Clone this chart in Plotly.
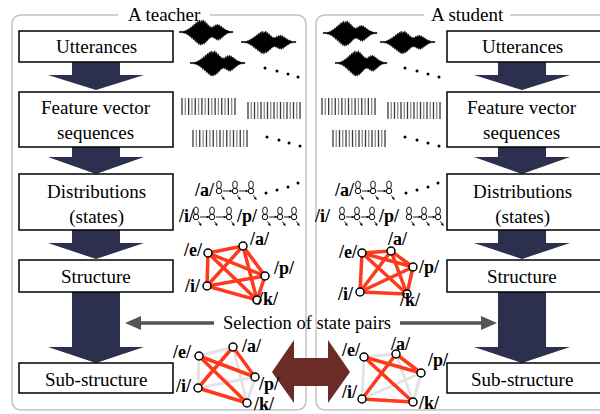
import plotly.graph_objects as go
import numpy as np

# ---------------- data / content ----------------
panel_titles = ["A teacher", "A student"]
panel_title_x = [164, 467]
step_labels = ["Utterances", "Feature vector<br>sequences", "Distributions<br>(states)",
               "Structure", "Sub-structure"]
box_tops = [31, 92, 174, 260, 363]
box_bottoms = [62, 147, 230, 292, 393]
label_y = [46, 120, 204, 276, 379]
arrow_specs = [(62, 75, 90), (147, 157, 174), (230, 243, 259), (292, 347, 363)]

phonemes = ["/e/", "/a/", "/p/", "/i/", "/k/"]
all_edges = [(0, 1), (0, 2), (0, 3), (0, 4), (1, 2), (1, 3), (1, 4), (2, 3), (2, 4), (3, 4)]
selected_edges = [(0, 2), (0, 4), (1, 2), (1, 3), (3, 4)]

graph_nodes = {
    "teacher_struct": [(208, 253), (243, 246), (265, 276), (207, 286), (257, 300)],
    "student_struct": [(362, 253), (391, 251), (413, 267), (360, 292), (407, 294)],
    "teacher_sub": [(199, 356), (233, 347), (255, 377), (198, 388), (247, 403)],
    "student_sub": [(364, 357), (396, 354), (421, 373), (362, 399), (413, 402)],
}
graph_labels = {
    "teacher_struct": [(193, 250), (259, 239), (284, 268), (192, 286), (268, 299)],
    "student_struct": [(348, 252), (397, 239), (429, 267), (345, 294), (410, 300)],
    "teacher_sub": [(182, 352), (251, 346), (269, 384), (183, 386), (264, 404)],
    "student_sub": [(351, 350), (400, 344), (438, 360), (349, 392), (429, 403)],
}

env_top = [0.5, 0.5, 0.5, 0.6, 0.5, 0.9, 0.7, 1.5, 1.1, 2.6, 2.0, 3.8, 3.1, 5.2, 4.4, 6.9, 5.8, 8.6,
           7.4, 10.2, 8.8, 11.6, 10.1, 12.8, 9.6, 12.2, 10.8, 13.0, 9.9, 11.4, 8.2, 9.6, 6.8, 7.4,
           5.0, 5.8, 4.1, 5.6, 4.6, 6.9, 5.5, 7.8, 6.3, 8.4, 6.1, 7.6, 5.2, 6.3, 4.0, 4.8, 2.9, 3.2,
           1.8, 2.0, 1.1, 1.0, 0.7, 0.6, 0.5, 0.5, 0.5]
env_bot = [0.5, 0.5, 0.6, 0.5, 0.8, 0.6, 1.3, 1.0, 2.3, 1.8, 3.5, 2.9, 5.0, 4.2, 6.8, 5.6, 8.4, 7.2,
           10.1, 8.9, 11.8, 10.2, 13.4, 11.5, 14.0, 12.1, 13.6, 11.0, 12.8, 10.3, 11.0, 8.6, 9.0,
           6.9, 6.8, 5.4, 5.9, 4.7, 6.4, 5.3, 7.5, 6.2, 8.6, 7.0, 8.9, 6.6, 7.8, 5.5, 6.1, 4.2, 4.4,
           2.8, 2.9, 1.7, 1.6, 1.0, 0.8, 0.6, 0.5, 0.5, 0.5]
waveforms = [
    (179, 54, 32, 0.95), (241, 55, 42, 0.85), (190, 55, 63, 0.95),
    (323, 54, 33, 0.95), (380, 55, 42, 0.85), (335, 52, 63, 0.95),
]
wave_dots = [[(265, 68), (277, 71), (288, 74), (298, 77)],
             [(405, 68), (417, 71), (428, 74), (439, 77)]]

feature_groups = [
    (182, 235, 98, 115, 17), (248, 300, 102, 119, 17), (193, 247, 130, 147, 17),
    (322, 375, 98, 115, 17), (388, 440, 102, 119, 17), (333, 385, 130, 147, 17),
]
feature_dots = [[(267, 137), (279, 140), (289, 143), (300, 146)],
                [(405, 137), (417, 140), (428, 143), (439, 146)]]

hmm_rows = [
    ("/a/", 204, 191, [219, 235, 251]),
    ("/i/", 186, 217, [196, 212, 229]),
    ("/p/", 247, 217, [265, 280, 294]),
    ("/a/", 344, 191, [358, 373, 389]),
    ("/i/", 322, 217, [342, 357, 372]),
    ("/p/", 389, 217, [409, 424, 438]),
]
hmm_dots = [[(266, 193), (277, 190), (288, 187), (298, 183)],
            [(406, 193), (417, 190), (428, 187), (438, 183)]]

selection_text = "Selection of state pairs"

# ---------------- styles ----------------
SERIF = "Liberation Serif"
NAVY = "#2c2f4e"
RED = "#ff3a1c"
GRAYEDGE = "#e3e3e3"
BROWN = "#6b2b27"
PANEL = "#c4c4c4"

fig = go.Figure()
shapes = []
ann = []

def rpanel(x0, x1, y0, y1, gap, r=10, right_open=False):
    g0, g1 = gap
    if right_open:
        p = (f"M {g0},{y0} L {x0+r},{y0} Q {x0},{y0} {x0},{y0+r} L {x0},{y1-r} "
             f"Q {x0},{y1} {x0+r},{y1} L {x1},{y1} M {g1},{y0} L {x1},{y0}")
    else:
        p = (f"M {g0},{y0} L {x0+r},{y0} Q {x0},{y0} {x0},{y0+r} L {x0},{y1-r} "
             f"Q {x0},{y1} {x0+r},{y1} L {x1-r},{y1} Q {x1},{y1} {x1},{y1-r} "
             f"L {x1},{y0+r} Q {x1},{y0} {x1-r},{y0} L {g1},{y0}")
    return dict(type="path", path=p, line=dict(color=PANEL, width=1.5), layer="below")

shapes.append(rpanel(12, 306, 15, 410, (118, 210)))
shapes.append(rpanel(316, 640, 15, 410, (424, 510), right_open=True))
for t, x in zip(panel_titles, panel_title_x):
    ann.append(dict(x=x, y=14, text=t, showarrow=False, font=dict(family=SERIF, size=19, color="black")))

for cx, bx0, bx1 in [(96, 19, 173), (522, 447, 640)]:
    for (ya, yh, yt) in arrow_specs:
        p = (f"M {cx-24},{ya} L {cx+24},{ya} L {cx+24},{yh} L {cx+48},{yh} L {cx},{yt} "
             f"L {cx-48},{yh} L {cx-24},{yh} Z")
        shapes.append(dict(type="path", path=p, fillcolor=NAVY, line=dict(width=0), layer="below"))
    for lab, yt, yb, ly in zip(step_labels, box_tops, box_bottoms, label_y):
        shapes.append(dict(type="rect", x0=bx0, x1=bx1, y0=yt, y1=yb, fillcolor="white",
                           line=dict(color="black", width=1.5), layer="below"))
        ann.append(dict(x=cx, y=ly, text=lab, showarrow=False,
                        font=dict(family=SERIF, size=19, color="black")))

for (x0, w, yc, s) in waveforms:
    n = len(env_top)
    xs = [x0 + w * i / (n - 1) for i in range(n)]
    px = xs + xs[::-1]
    py = [yc - v * s for v in env_top] + [yc + v * s for v in env_bot[::-1]]
    fig.add_trace(go.Scatter(x=px, y=py, fill="toself", fillcolor="black", mode="lines",
                             line=dict(color="black", width=0.5), hoverinfo="skip"))

def dots_trace(dl):
    xs = [p[0] for grp in dl for p in grp]
    ys = [p[1] for grp in dl for p in grp]
    return go.Scatter(x=xs, y=ys, mode="markers", marker=dict(size=3, color="black"), hoverinfo="skip")

fig.add_trace(dots_trace(wave_dots))
fig.add_trace(dots_trace(feature_dots))
fig.add_trace(dots_trace(hmm_dots))

for shade in (0, 1):
    bx, by = [], []
    for (x0, x1, y0, y1, n) in feature_groups:
        for i, x in enumerate(np.linspace(x0, x1, n)):
            if i % 2 == shade:
                bx += [x, x, None]
                by += [y0, y1, None]
    fig.add_trace(go.Scatter(x=bx, y=by, mode="lines", hoverinfo="skip",
                             line=dict(color="#3a3a3a" if shade == 0 else "#8a8a8a", width=1.3)))

sx, sy = [], []
for (lab, lx, y, xs) in hmm_rows:
    ann.append(dict(x=lx, y=y - 1, text=f"<b>{lab}</b>", showarrow=False,
                    font=dict(family=SERIF, size=18, color="black")))
    for j, x in enumerate(xs):
        sx.append(x); sy.append(y)
        shapes.append(dict(type="circle", x0=x - 2.4, x1=x + 2.4, y0=y - 10, y1=y - 2.5,
                           line=dict(color="black", width=0.9)))
        ann.append(dict(x=x + 5.5, y=y + 9, ax=x + 1.5, ay=y + 3, axref="x", ayref="y",
                        xref="x", yref="y", text="", showarrow=True, arrowhead=2,
                        arrowsize=0.6, arrowwidth=0.9, arrowcolor="black", standoff=0, startstandoff=0))
        if j < len(xs) - 1:
            ann.append(dict(x=xs[j + 1] - 2.6, y=y, ax=x + 2.6, ay=y, axref="x", ayref="y",
                            xref="x", yref="y", text="", showarrow=True, arrowhead=2,
                            arrowsize=0.6, arrowwidth=0.9, arrowcolor="black", standoff=0, startstandoff=0))
fig.add_trace(go.Scatter(x=sx, y=sy, mode="markers", hoverinfo="skip",
                         marker=dict(size=5.5, color="white", line=dict(color="black", width=1))))

for key, nodes in graph_nodes.items():
    sub = key.endswith("sub")
    if sub:
        gx, gy = [], []
        for a, b in all_edges:
            if (a, b) not in selected_edges:
                gx += [nodes[a][0], nodes[b][0], None]
                gy += [nodes[a][1], nodes[b][1], None]
        fig.add_trace(go.Scatter(x=gx, y=gy, mode="lines", hoverinfo="skip",
                                 line=dict(color=GRAYEDGE, width=3)))
    edges = selected_edges if sub else all_edges
    ex, ey = [], []
    for a, b in edges:
        ex += [nodes[a][0], nodes[b][0], None]
        ey += [nodes[a][1], nodes[b][1], None]
    fig.add_trace(go.Scatter(x=ex, y=ey, mode="lines", hoverinfo="skip",
                             line=dict(color=RED, width=3.5)))
    fig.add_trace(go.Scatter(x=[n[0] for n in nodes], y=[n[1] for n in nodes], mode="markers",
                             hoverinfo="skip",
                             marker=dict(size=8, color="white", line=dict(color="black", width=1.5))))
    for lab, (lx, ly) in zip(phonemes, graph_labels[key]):
        ann.append(dict(x=lx, y=ly, text=f"<b>{lab}</b>", showarrow=False, borderpad=0,
                        font=dict(family=SERIF, size=18, color="black")))

ann.append(dict(x=307, y=323, text=selection_text, showarrow=False, borderpad=0,
                font=dict(family=SERIF, size=18.5, color="black")))
shapes.append(dict(type="line", x0=214, x1=138, y0=323, y1=323, line=dict(color="#555555", width=3.5)))
shapes.append(dict(type="path", path="M 125,323 L 141,316 L 141,330 Z", fillcolor="#555555", line=dict(width=0)))
shapes.append(dict(type="line", x0=400, x1=484, y0=323, y1=323, line=dict(color="#555555", width=3.5)))
shapes.append(dict(type="path", path="M 497,323 L 481,316 L 481,330 Z", fillcolor="#555555", line=dict(width=0)))

shapes.append(dict(type="path",
                   path="M 272,372 L 294,340 L 294,358 L 328,358 L 328,340 L 350,372 "
                        "L 328,403 L 328,386 L 294,386 L 294,403 Z",
                   fillcolor=BROWN, line=dict(width=0)))

fig.update_layout(
    width=600, height=414, margin=dict(l=0, r=0, t=0, b=0),
    paper_bgcolor="white", plot_bgcolor="white", showlegend=False,
    xaxis=dict(range=[0, 600], visible=False, fixedrange=True),
    yaxis=dict(range=[414, 0], visible=False, fixedrange=True),
    shapes=shapes, annotations=ann,
)
fig.write_html("out.html", config={"displayModeBar": False},
               post_script="document.body.style.margin='0px';")
